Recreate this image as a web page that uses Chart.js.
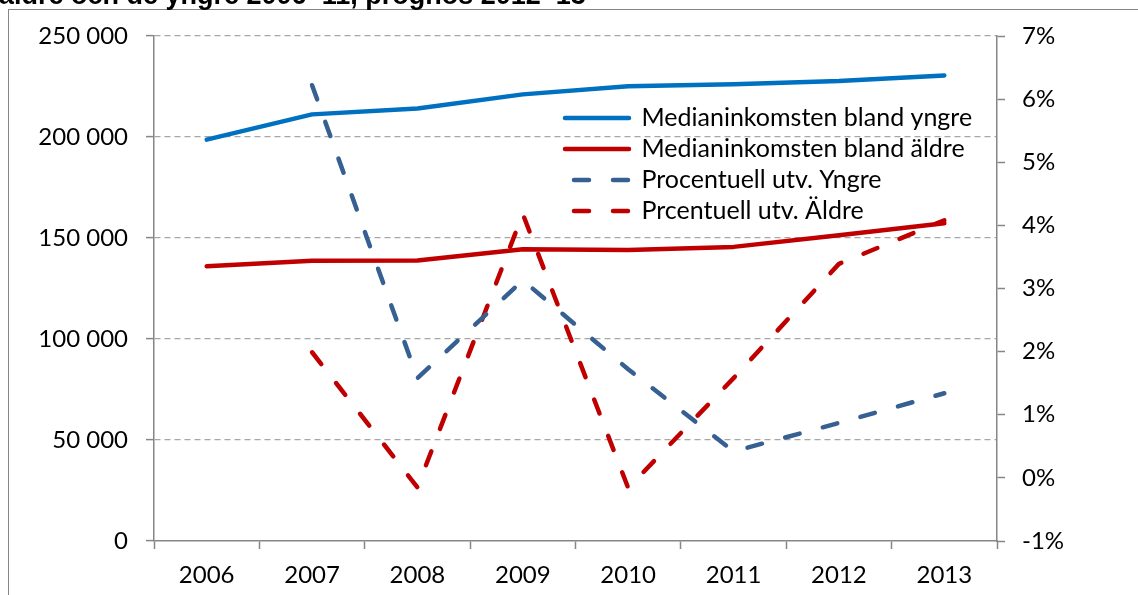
<!DOCTYPE html>
<html lang="sv">
<head>
<meta charset="utf-8">
<title>Medianinkomst äldre och yngre</title>
<script src="https://cdn.jsdelivr.net/npm/chart.js@4.4.1/dist/chart.umd.min.js"></script>
<style>
  html, body { margin: 0; padding: 0; background: #fff; }
  canvas { display: block; }
</style>
</head>
<body>
<canvas id="chart" width="1138" height="595"></canvas>
<script>
// values
const years = ['2006', '2007', '2008', '2009', '2010', '2011', '2012', '2013'];
const medianYngre = [198700, 211200, 214100, 221100, 225100, 226100, 227700, 230500];
const medianAldre = [136000, 138700, 138900, 144400, 144000, 145600, 151400, 157300];
const utvYngre = [null, 6.22, 1.58, 3.13, 1.72, 0.42, 0.87, 1.34];
const utvAldre = [null, 1.99, -0.15, 4.18, -0.16, 1.58, 3.39, 4.08];

const seriesNames = [
  'Medianinkomsten bland yngre',
  'Medianinkomsten bland äldre',
  'Procentuell utv. Yngre',
  'Prcentuell utv. Äldre',
];
const titleText = 'äldre och de yngre 2006–11, prognos 2012–13';

const axisGray = '#868686';
const gridGray = '#a6a6a6';
const font = { family: 'Lato, "Open Sans", sans-serif', size: 24 };
const legendFont = { family: 'Lato, "Open Sans", sans-serif', size: 25 };

const formatThousands = (v) => String(v).replace(/\B(?=(\d{3})+(?!\d))/g, ' ');

// frame of the chart object and the clipped heading above it
const framePlugin = {
  id: 'frame',
  beforeDraw(chart) {
    const ctx = chart.ctx;
    ctx.save();
    ctx.fillStyle = '#fff';
    ctx.fillRect(0, 0, chart.width, chart.height);
    ctx.strokeStyle = axisGray;
    ctx.lineWidth = 1;
    ctx.strokeRect(8.5, 9.5, 2000, 2000);
    ctx.fillStyle = '#000';
    ctx.font = 'bold 27px "Liberation Sans", Arial, sans-serif';
    ctx.textBaseline = 'alphabetic';
    ctx.fillText(titleText, -1, 4);
    ctx.restore();
  },
  afterLayout(chart) {
    // put the legend inside the plot, top right
    const lg = chart.legend;
    lg.left = 559;
    lg.top = 99.5;
    lg.width = 430;
    lg.height = 200;
    lg.right = lg.left + lg.width;
    lg.bottom = lg.top + lg.height;
  },
};

const data = {
  labels: years,
  datasets: [
    {
      label: seriesNames[0],
      data: medianYngre,
      yAxisID: 'y',
      borderColor: '#0070c0',
      backgroundColor: '#0070c0',
    },
    {
      label: seriesNames[1],
      data: medianAldre,
      yAxisID: 'y',
      borderColor: '#c00000',
      backgroundColor: '#c00000',
    },
    {
      label: seriesNames[2],
      data: utvYngre,
      yAxisID: 'y1',
      borderColor: '#376092',
      backgroundColor: '#376092',
      borderDash: [15, 24],
    },
    {
      label: seriesNames[3],
      data: utvAldre,
      yAxisID: 'y1',
      borderColor: '#c00000',
      backgroundColor: '#c00000',
      borderDash: [15, 24],
    },
  ],
};

data.datasets.forEach((ds) => {
  ds.borderWidth = 4.5;
  ds.pointRadius = 0;
  ds.pointHoverRadius = 0;
  ds.tension = 0;
  ds.borderCapStyle = 'round';
  ds.borderJoinStyle = 'round';
  ds.fill = false;
});

const config = {
  type: 'line',
  data,
  options: {
    responsive: false,
    devicePixelRatio: 1,
    animation: false,
    layout: { padding: { top: 36, left: 0, right: 0, bottom: 0 } },
    plugins: {
      title: { display: false },
      tooltip: { enabled: false },
      legend: {
        position: 'chartArea',
        align: 'start',
        labels: {
          usePointStyle: true,
          pointStyle: 'line',
          pointStyleWidth: 64,
          padding: 6,
          color: '#000',
          font: legendFont,
          generateLabels(chart) {
            const items = Chart.defaults.plugins.legend.labels.generateLabels(chart);
            items.forEach((item) => {
              const ds = chart.data.datasets[item.datasetIndex];
              item.strokeStyle = ds.borderColor;
              item.lineWidth = ds.borderWidth;
              item.lineCap = 'round';
              item.lineDash = ds.borderDash || [];
              item.lineDashOffset = ds.borderDash ? 30 : 0;
            });
            return items;
          },
        },
      },
    },
    scales: {
      x: {
        offset: true,
        grid: {
          offset: true,
          drawOnChartArea: false,
          drawTicks: true,
          tickLength: 8,
          tickColor: axisGray,
          tickWidth: 1.5,
        },
        border: { color: axisGray, width: 1.5 },
        ticks: { color: '#000', font, padding: 12, maxRotation: 0 },
        afterFit(scale) { scale.height = 54; },
      },
      y: {
        position: 'left',
        min: 0,
        max: 250000,
        ticks: {
          stepSize: 50000,
          color: '#000',
          font,
          padding: 18,
          callback: (v) => formatThousands(v),
        },
        grid: {
          color: (ctx) => (ctx.tick && ctx.tick.value === 0 ? 'rgba(0,0,0,0)' : gridGray),
          lineWidth: 1.2,
          tickBorderDash: [],
          tickLength: 8,
          tickColor: axisGray,
          tickWidth: 1.5,
        },
        // in v4 border.dash sets the dash of the grid lines
        border: { color: axisGray, width: 1.5, dash: [6, 4] },
        afterFit(scale) { scale.width = 154; },
      },
      y1: {
        position: 'right',
        min: -1,
        max: 7,
        ticks: {
          stepSize: 1,
          color: '#000',
          font,
          padding: 17,
          callback: (v) => v + '%',
        },
        grid: {
          drawOnChartArea: false,
          tickLength: 8,
          tickColor: axisGray,
          tickWidth: 1.5,
        },
        border: { color: axisGray, width: 1.5 },
        afterFit(scale) { scale.width = 141; },
      },
    },
  },
  plugins: [framePlugin],
};

new Chart(document.getElementById('chart').getContext('2d'), config);
</script>
</body>
</html>
